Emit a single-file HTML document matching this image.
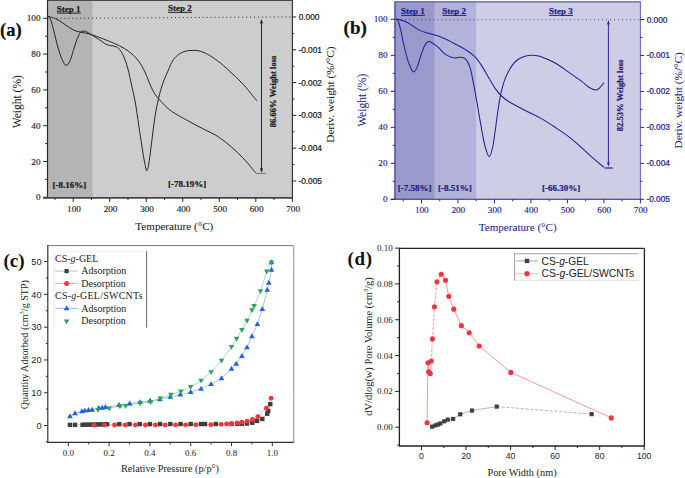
<!DOCTYPE html>
<html><head><meta charset="utf-8"><title>Figure</title>
<style>html,body{margin:0;padding:0;background:#fff;width:685px;height:478px;overflow:hidden}svg{display:block}</style>
</head><body>
<svg width="685" height="478" viewBox="0 0 685 478">
<rect x="0.00" y="0.00" width="685.00" height="478.00" fill="#ffffff"/>
<rect x="47.50" y="0.40" width="244.90" height="196.90" fill="#cdcdcd"/>
<rect x="47.50" y="0.40" width="45.00" height="196.90" fill="#b4b4b4"/>
<line x1="56.50" y1="18.40" x2="292.40" y2="16.90" stroke="#2a2a2a" stroke-width="1.0" stroke-dasharray="1 2.95"/>
<path d="M47.40,16.10 C47.88,16.57 49.33,16.87 50.30,18.90 C51.27,20.93 52.28,24.95 53.20,28.30 C54.12,31.65 54.92,35.50 55.80,39.00 C56.68,42.50 57.47,45.92 58.50,49.30 C59.53,52.68 60.73,56.60 62.00,59.30 C63.27,62.00 64.73,65.33 66.10,65.50 C67.47,65.67 68.95,62.97 70.20,60.30 C71.45,57.63 72.47,53.00 73.60,49.50 C74.73,46.00 75.87,42.15 77.00,39.30 C78.13,36.45 79.27,33.77 80.40,32.40 C81.53,31.03 82.67,31.13 83.80,31.10 C84.93,31.07 85.73,31.45 87.20,32.20 C88.67,32.95 90.53,34.33 92.60,35.60 C94.67,36.87 97.45,38.40 99.60,39.80 C101.75,41.20 103.67,43.03 105.50,44.00 C107.33,44.97 109.02,45.20 110.60,45.60 C112.18,46.00 113.65,45.90 115.00,46.40 C116.35,46.90 117.35,47.15 118.70,48.60 C120.05,50.05 121.60,51.87 123.10,55.10 C124.60,58.33 126.20,62.58 127.70,68.00 C129.20,73.42 130.82,81.77 132.10,87.60 C133.38,93.43 134.30,96.77 135.40,103.00 C136.50,109.23 137.60,117.68 138.70,125.00 C139.80,132.32 141.02,140.68 142.00,146.90 C142.98,153.12 143.80,158.33 144.60,162.30 C145.40,166.27 146.07,170.70 146.80,170.70 C147.53,170.70 148.15,167.37 149.00,162.30 C149.85,157.23 150.95,147.62 151.90,140.30 C152.85,132.98 153.60,125.35 154.70,118.40 C155.80,111.45 157.13,104.47 158.50,98.60 C159.87,92.73 161.25,87.97 162.90,83.20 C164.55,78.43 166.75,73.78 168.40,70.00 C170.05,66.22 171.08,63.10 172.80,60.50 C174.52,57.90 176.67,55.93 178.70,54.40 C180.73,52.87 182.95,51.95 185.00,51.30 C187.05,50.65 188.83,50.62 191.00,50.50 C193.17,50.38 195.67,50.18 198.00,50.60 C200.33,51.02 202.83,52.05 205.00,53.00 C207.17,53.95 208.33,54.55 211.00,56.30 C213.67,58.05 217.45,60.60 221.00,63.50 C224.55,66.40 229.13,70.78 232.30,73.70 C235.47,76.62 237.72,78.70 240.00,81.00 C242.28,83.30 244.17,85.42 246.00,87.50 C247.83,89.58 249.22,91.29 251.00,93.50 C252.78,95.71 255.75,99.54 256.70,100.75" fill="none" stroke="#1e1e1e" stroke-width="0.95" stroke-linejoin="round"/>
<path d="M47.40,16.10 C48.82,16.55 53.35,17.67 55.90,18.80 C58.45,19.93 60.43,21.42 62.70,22.90 C64.97,24.38 67.23,26.33 69.50,27.70 C71.77,29.07 74.03,30.28 76.30,31.10 C78.57,31.92 80.60,32.03 83.10,32.60 C85.60,33.17 88.05,33.48 91.30,34.50 C94.55,35.52 98.77,37.22 102.60,38.70 C106.43,40.18 110.65,41.75 114.30,43.40 C117.95,45.05 121.33,46.65 124.50,48.60 C127.67,50.55 130.62,52.55 133.30,55.10 C135.98,57.65 138.40,60.48 140.60,63.90 C142.80,67.32 145.02,72.37 146.50,75.60 C147.98,78.83 148.42,80.77 149.50,83.30 C150.58,85.83 151.83,88.63 153.00,90.80 C154.17,92.97 155.33,94.73 156.50,96.30 C157.67,97.87 158.63,98.68 160.00,100.20 C161.37,101.72 163.13,103.83 164.70,105.40 C166.27,106.97 167.83,108.35 169.40,109.60 C170.97,110.85 172.53,111.88 174.10,112.90 C175.67,113.92 176.45,114.37 178.80,115.70 C181.15,117.03 185.05,119.17 188.20,120.90 C191.35,122.63 194.55,124.45 197.70,126.10 C200.85,127.75 204.22,129.35 207.10,130.80 C209.98,132.25 212.77,133.55 215.00,134.80 C217.23,136.05 218.65,137.02 220.50,138.30 C222.35,139.58 224.25,141.02 226.10,142.50 C227.95,143.98 229.75,145.58 231.60,147.20 C233.45,148.82 235.35,150.45 237.20,152.20 C239.05,153.95 240.85,155.77 242.70,157.70 C244.55,159.63 246.63,161.87 248.30,163.80 C249.97,165.73 251.42,167.73 252.70,169.30 C253.98,170.87 255.45,172.55 256.00,173.20" fill="none" stroke="#1e1e1e" stroke-width="0.95" stroke-linejoin="round"/>
<line x1="256.00" y1="173.50" x2="265.90" y2="173.50" stroke="#7a7a7a" stroke-width="1.1"/>
<line x1="261.50" y1="22.50" x2="261.50" y2="169.30" stroke="#1e1e1e" stroke-width="0.95"/>
<path d="M261.50,19.00 L259.90,23.80 L261.50,22.84 L263.10,23.80 Z" fill="#1e1e1e"/>
<path d="M261.50,172.80 L259.90,168.00 L261.50,168.96 L263.10,168.00 Z" fill="#1e1e1e"/>
<line x1="47.00" y1="0.50" x2="292.90" y2="0.50" stroke="#4a4a4a" stroke-width="1.0"/>
<line x1="47.50" y1="0.40" x2="47.50" y2="197.90" stroke="#2a2a2a" stroke-width="1.2"/>
<line x1="292.40" y1="0.40" x2="292.40" y2="197.90" stroke="#2e2e2e" stroke-width="1.1"/>
<line x1="43.20" y1="197.90" x2="292.90" y2="197.90" stroke="#454545" stroke-width="1.6"/>
<line x1="43.20" y1="197.30" x2="47.50" y2="197.30" stroke="#262626" stroke-width="1"/>
<text x="40.50" y="200.40" style="font-family:'Liberation Serif',serif;font-size:9.2px;font-weight:normal" text-anchor="end" fill="#1a1a1a" stroke="#1a1a1a" stroke-width="0.15">0</text>
<line x1="45.20" y1="179.40" x2="47.50" y2="179.40" stroke="#262626" stroke-width="1"/>
<line x1="43.20" y1="161.50" x2="47.50" y2="161.50" stroke="#262626" stroke-width="1"/>
<text x="40.50" y="164.60" style="font-family:'Liberation Serif',serif;font-size:9.2px;font-weight:normal" text-anchor="end" fill="#1a1a1a" stroke="#1a1a1a" stroke-width="0.15">20</text>
<line x1="45.20" y1="143.60" x2="47.50" y2="143.60" stroke="#262626" stroke-width="1"/>
<line x1="43.20" y1="125.70" x2="47.50" y2="125.70" stroke="#262626" stroke-width="1"/>
<text x="40.50" y="128.80" style="font-family:'Liberation Serif',serif;font-size:9.2px;font-weight:normal" text-anchor="end" fill="#1a1a1a" stroke="#1a1a1a" stroke-width="0.15">40</text>
<line x1="45.20" y1="107.80" x2="47.50" y2="107.80" stroke="#262626" stroke-width="1"/>
<line x1="43.20" y1="89.90" x2="47.50" y2="89.90" stroke="#262626" stroke-width="1"/>
<text x="40.50" y="93.00" style="font-family:'Liberation Serif',serif;font-size:9.2px;font-weight:normal" text-anchor="end" fill="#1a1a1a" stroke="#1a1a1a" stroke-width="0.15">60</text>
<line x1="45.20" y1="72.00" x2="47.50" y2="72.00" stroke="#262626" stroke-width="1"/>
<line x1="43.20" y1="54.10" x2="47.50" y2="54.10" stroke="#262626" stroke-width="1"/>
<text x="40.50" y="57.20" style="font-family:'Liberation Serif',serif;font-size:9.2px;font-weight:normal" text-anchor="end" fill="#1a1a1a" stroke="#1a1a1a" stroke-width="0.15">80</text>
<line x1="45.20" y1="36.20" x2="47.50" y2="36.20" stroke="#262626" stroke-width="1"/>
<line x1="43.20" y1="18.30" x2="47.50" y2="18.30" stroke="#262626" stroke-width="1"/>
<text x="40.50" y="21.40" style="font-family:'Liberation Serif',serif;font-size:9.2px;font-weight:normal" text-anchor="end" fill="#1a1a1a" stroke="#1a1a1a" stroke-width="0.15">100</text>
<line x1="54.94" y1="197.90" x2="54.94" y2="199.90" stroke="#262626" stroke-width="1"/>
<line x1="73.20" y1="197.90" x2="73.20" y2="201.90" stroke="#262626" stroke-width="1"/>
<text x="74.00" y="211.60" style="font-family:'Liberation Serif',serif;font-size:9.2px;font-weight:normal" text-anchor="middle" fill="#1a1a1a" stroke="#1a1a1a" stroke-width="0.15">100</text>
<line x1="91.46" y1="197.90" x2="91.46" y2="199.90" stroke="#262626" stroke-width="1"/>
<line x1="109.72" y1="197.90" x2="109.72" y2="201.90" stroke="#262626" stroke-width="1"/>
<text x="110.52" y="211.60" style="font-family:'Liberation Serif',serif;font-size:9.2px;font-weight:normal" text-anchor="middle" fill="#1a1a1a" stroke="#1a1a1a" stroke-width="0.15">200</text>
<line x1="127.98" y1="197.90" x2="127.98" y2="199.90" stroke="#262626" stroke-width="1"/>
<line x1="146.24" y1="197.90" x2="146.24" y2="201.90" stroke="#262626" stroke-width="1"/>
<text x="147.04" y="211.60" style="font-family:'Liberation Serif',serif;font-size:9.2px;font-weight:normal" text-anchor="middle" fill="#1a1a1a" stroke="#1a1a1a" stroke-width="0.15">300</text>
<line x1="164.50" y1="197.90" x2="164.50" y2="199.90" stroke="#262626" stroke-width="1"/>
<line x1="182.76" y1="197.90" x2="182.76" y2="201.90" stroke="#262626" stroke-width="1"/>
<text x="183.56" y="211.60" style="font-family:'Liberation Serif',serif;font-size:9.2px;font-weight:normal" text-anchor="middle" fill="#1a1a1a" stroke="#1a1a1a" stroke-width="0.15">400</text>
<line x1="201.02" y1="197.90" x2="201.02" y2="199.90" stroke="#262626" stroke-width="1"/>
<line x1="219.28" y1="197.90" x2="219.28" y2="201.90" stroke="#262626" stroke-width="1"/>
<text x="220.08" y="211.60" style="font-family:'Liberation Serif',serif;font-size:9.2px;font-weight:normal" text-anchor="middle" fill="#1a1a1a" stroke="#1a1a1a" stroke-width="0.15">500</text>
<line x1="237.54" y1="197.90" x2="237.54" y2="199.90" stroke="#262626" stroke-width="1"/>
<line x1="255.80" y1="197.90" x2="255.80" y2="201.90" stroke="#262626" stroke-width="1"/>
<text x="256.60" y="211.60" style="font-family:'Liberation Serif',serif;font-size:9.2px;font-weight:normal" text-anchor="middle" fill="#1a1a1a" stroke="#1a1a1a" stroke-width="0.15">600</text>
<line x1="274.06" y1="197.90" x2="274.06" y2="199.90" stroke="#262626" stroke-width="1"/>
<line x1="292.32" y1="197.90" x2="292.32" y2="201.90" stroke="#262626" stroke-width="1"/>
<text x="293.12" y="211.60" style="font-family:'Liberation Serif',serif;font-size:9.2px;font-weight:normal" text-anchor="middle" fill="#1a1a1a" stroke="#1a1a1a" stroke-width="0.15">700</text>
<line x1="292.40" y1="17.00" x2="296.20" y2="17.00" stroke="#262626" stroke-width="1"/>
<text x="298.70" y="20.00" style="font-family:'Liberation Sans',sans-serif;font-size:8.3px;font-weight:normal" text-anchor="start" fill="#1a1a1a" stroke="#1a1a1a" stroke-width="0.22">0.000</text>
<line x1="292.40" y1="33.40" x2="294.40" y2="33.40" stroke="#262626" stroke-width="1"/>
<line x1="292.40" y1="49.80" x2="296.20" y2="49.80" stroke="#262626" stroke-width="1"/>
<text x="298.40" y="52.80" style="font-family:'Liberation Sans',sans-serif;font-size:8.3px;font-weight:normal" text-anchor="start" fill="#1a1a1a" stroke="#1a1a1a" stroke-width="0.22">-0.001</text>
<line x1="292.40" y1="66.20" x2="294.40" y2="66.20" stroke="#262626" stroke-width="1"/>
<line x1="292.40" y1="82.60" x2="296.20" y2="82.60" stroke="#262626" stroke-width="1"/>
<text x="298.40" y="85.60" style="font-family:'Liberation Sans',sans-serif;font-size:8.3px;font-weight:normal" text-anchor="start" fill="#1a1a1a" stroke="#1a1a1a" stroke-width="0.22">-0.002</text>
<line x1="292.40" y1="99.00" x2="294.40" y2="99.00" stroke="#262626" stroke-width="1"/>
<line x1="292.40" y1="115.40" x2="296.20" y2="115.40" stroke="#262626" stroke-width="1"/>
<text x="298.40" y="118.40" style="font-family:'Liberation Sans',sans-serif;font-size:8.3px;font-weight:normal" text-anchor="start" fill="#1a1a1a" stroke="#1a1a1a" stroke-width="0.22">-0.003</text>
<line x1="292.40" y1="131.80" x2="294.40" y2="131.80" stroke="#262626" stroke-width="1"/>
<line x1="292.40" y1="148.20" x2="296.20" y2="148.20" stroke="#262626" stroke-width="1"/>
<text x="298.40" y="151.20" style="font-family:'Liberation Sans',sans-serif;font-size:8.3px;font-weight:normal" text-anchor="start" fill="#1a1a1a" stroke="#1a1a1a" stroke-width="0.22">-0.004</text>
<line x1="292.40" y1="164.60" x2="294.40" y2="164.60" stroke="#262626" stroke-width="1"/>
<line x1="292.40" y1="181.00" x2="296.20" y2="181.00" stroke="#262626" stroke-width="1"/>
<text x="298.40" y="184.00" style="font-family:'Liberation Sans',sans-serif;font-size:8.3px;font-weight:normal" text-anchor="start" fill="#1a1a1a" stroke="#1a1a1a" stroke-width="0.22">-0.005</text>
<text x="56.80" y="11.60" style="font-family:'Liberation Serif',serif;font-size:9px;font-weight:bold" text-anchor="start" fill="#1a1a1a" stroke="#1a1a1a" stroke-width="0.22">Step 1</text>
<line x1="57.00" y1="13.05" x2="80.80" y2="13.05" stroke="#1a1a1a" stroke-width="1.0"/>
<text x="167.90" y="10.90" style="font-family:'Liberation Serif',serif;font-size:9px;font-weight:bold" text-anchor="start" fill="#1a1a1a" stroke="#1a1a1a" stroke-width="0.22">Step 2</text>
<line x1="168.10" y1="12.35" x2="191.90" y2="12.35" stroke="#1a1a1a" stroke-width="1.0"/>
<text x="52.40" y="187.60" style="font-family:'Liberation Serif',serif;font-size:9px;font-weight:bold" text-anchor="start" fill="#1a1a1a" stroke="#1a1a1a" stroke-width="0.22">[-8.16%]</text>
<text x="168.00" y="187.40" style="font-family:'Liberation Serif',serif;font-size:9px;font-weight:bold" text-anchor="start" fill="#1a1a1a" stroke="#1a1a1a" stroke-width="0.22">[-78.19%]</text>
<text x="276.40" y="91.40" style="font-family:'Liberation Serif',serif;font-size:8.6px;font-weight:bold" text-anchor="middle" fill="#1a1a1a" stroke="#1a1a1a" stroke-width="0.22" transform="rotate(-90 276.40 91.40)">86.66% Weight loss</text>
<text x="174.30" y="230.20" style="font-family:'Liberation Serif',serif;font-size:11.1px;font-weight:normal" text-anchor="middle" fill="#1a1a1a" stroke="#1a1a1a" stroke-width="0.06">Temperature (°C)</text>
<text x="20.70" y="101.70" style="font-family:'Liberation Serif',serif;font-size:11.5px;font-weight:normal" text-anchor="middle" fill="#1a1a1a" stroke="#1a1a1a" stroke-width="0.06" transform="rotate(-90 20.70 101.70)">Weight (%)</text>
<text x="334.40" y="94.60" style="font-family:'Liberation Serif',serif;font-size:11.3px;font-weight:normal" text-anchor="middle" fill="#1a1a1a" stroke="#1a1a1a" stroke-width="0.06" transform="rotate(-90 334.40 94.60)">Deriv. weight (%/°C)</text>
<text x="0.00" y="35.70" style="font-family:'Liberation Serif',serif;font-size:18.6px;font-weight:bold" text-anchor="start" fill="#111" stroke="#111" stroke-width="0.22">(a)</text>
<rect x="395.00" y="1.50" width="245.40" height="197.50" fill="#cdcde6"/>
<rect x="395.00" y="1.50" width="81.10" height="197.50" fill="#b3b3d9"/>
<rect x="395.00" y="1.50" width="39.40" height="197.50" fill="#9999cb"/>
<line x1="401.00" y1="19.80" x2="640.40" y2="19.80" stroke="#3c3c9c" stroke-width="0.95" stroke-dasharray="1 3.02"/>
<path d="M395.20,18.80 C395.68,19.15 397.17,18.97 398.10,20.90 C399.03,22.83 399.88,26.55 400.80,30.40 C401.72,34.25 402.57,39.47 403.60,44.00 C404.63,48.53 405.87,53.75 407.00,57.60 C408.13,61.45 409.27,64.72 410.40,67.10 C411.53,69.48 412.67,71.90 413.80,71.90 C414.93,71.90 416.07,69.70 417.20,67.10 C418.33,64.50 419.35,59.92 420.60,56.30 C421.85,52.68 423.35,47.85 424.70,45.40 C426.05,42.95 427.35,41.95 428.70,41.60 C430.05,41.25 431.20,42.33 432.80,43.30 C434.40,44.27 436.27,45.60 438.30,47.40 C440.33,49.20 442.83,52.47 445.00,54.10 C447.17,55.73 449.55,56.57 451.30,57.20 C453.05,57.83 453.93,57.90 455.50,57.90 C457.07,57.90 458.97,56.97 460.70,57.20 C462.43,57.43 464.33,57.55 465.90,59.30 C467.47,61.05 468.87,63.85 470.10,67.70 C471.33,71.55 472.25,77.17 473.30,82.40 C474.35,87.63 475.35,93.17 476.40,99.10 C477.45,105.03 478.58,112.18 479.60,118.00 C480.62,123.82 481.52,129.00 482.50,134.00 C483.48,139.00 484.40,144.23 485.50,148.00 C486.60,151.77 487.93,156.60 489.10,156.60 C490.27,156.60 491.47,152.43 492.50,148.00 C493.53,143.57 494.32,136.75 495.30,130.00 C496.28,123.25 497.37,114.05 498.40,107.50 C499.43,100.95 500.28,95.77 501.50,90.70 C502.72,85.63 503.95,81.28 505.70,77.10 C507.45,72.92 509.90,68.57 512.00,65.60 C514.10,62.63 516.13,60.87 518.30,59.30 C520.47,57.73 522.80,56.88 525.00,56.20 C527.20,55.52 529.42,55.27 531.50,55.20 C533.58,55.13 535.42,55.35 537.50,55.80 C539.58,56.25 540.85,56.58 544.00,57.90 C547.15,59.22 552.25,61.28 556.40,63.70 C560.55,66.12 564.73,69.50 568.90,72.40 C573.07,75.30 578.07,78.63 581.40,81.10 C584.73,83.57 586.48,85.73 588.90,87.20 C591.32,88.67 594.03,89.87 595.90,89.90 C597.77,89.93 598.77,88.57 600.10,87.40 C601.43,86.23 603.27,83.65 603.90,82.90" fill="none" stroke="#20209a" stroke-width="1.05" stroke-linejoin="round"/>
<path d="M395.20,18.80 C396.70,19.15 401.33,19.77 404.20,20.90 C407.07,22.03 409.90,24.07 412.40,25.60 C414.90,27.13 416.70,28.85 419.20,30.10 C421.70,31.35 424.45,32.18 427.40,33.10 C430.35,34.02 433.97,34.65 436.90,35.60 C439.83,36.55 441.90,37.37 445.00,38.80 C448.10,40.23 452.02,42.35 455.50,44.20 C458.98,46.05 462.77,47.90 465.90,49.90 C469.03,51.90 471.68,53.58 474.30,56.20 C476.92,58.82 479.15,61.93 481.60,65.60 C484.05,69.27 486.72,74.37 489.00,78.20 C491.28,82.03 493.22,85.63 495.30,88.60 C497.38,91.57 499.07,93.72 501.50,96.00 C503.93,98.28 505.70,99.75 509.90,102.30 C514.10,104.85 521.53,108.62 526.70,111.30 C531.87,113.98 536.17,115.73 540.90,118.40 C545.63,121.07 550.37,124.18 555.10,127.30 C559.83,130.42 564.85,133.68 569.30,137.10 C573.75,140.52 577.95,144.38 581.80,147.80 C585.65,151.22 588.70,154.35 592.40,157.60 C596.10,160.85 602.07,165.68 604.00,167.30" fill="none" stroke="#20209a" stroke-width="1.05" stroke-linejoin="round"/>
<line x1="604.50" y1="168.00" x2="612.90" y2="168.00" stroke="#5c5cb0" stroke-width="1.8"/>
<line x1="608.40" y1="23.40" x2="608.40" y2="163.30" stroke="#20209a" stroke-width="0.95"/>
<path d="M608.40,19.90 L606.90,24.70 L608.40,23.74 L609.90,24.70 Z" fill="#20209a"/>
<path d="M608.40,166.80 L606.90,162.00 L608.40,162.96 L609.90,162.00 Z" fill="#20209a"/>
<line x1="394.50" y1="1.80" x2="640.90" y2="1.80" stroke="#5e5eb2" stroke-width="1.3"/>
<line x1="395.00" y1="1.50" x2="395.00" y2="199.30" stroke="#5a5ab0" stroke-width="1.7"/>
<line x1="640.40" y1="1.50" x2="640.40" y2="199.30" stroke="#6464b4" stroke-width="1.0"/>
<line x1="390.70" y1="199.30" x2="640.90" y2="199.30" stroke="#20208c" stroke-width="1.1"/>
<line x1="390.70" y1="199.30" x2="395.00" y2="199.30" stroke="#25258e" stroke-width="1"/>
<text x="387.50" y="202.40" style="font-family:'Liberation Serif',serif;font-size:9.2px;font-weight:normal" text-anchor="end" fill="#1d1d86" stroke="#1d1d86" stroke-width="0.15">0</text>
<line x1="392.70" y1="181.30" x2="395.00" y2="181.30" stroke="#25258e" stroke-width="1"/>
<line x1="390.70" y1="163.30" x2="395.00" y2="163.30" stroke="#25258e" stroke-width="1"/>
<text x="387.50" y="166.40" style="font-family:'Liberation Serif',serif;font-size:9.2px;font-weight:normal" text-anchor="end" fill="#1d1d86" stroke="#1d1d86" stroke-width="0.15">20</text>
<line x1="392.70" y1="145.30" x2="395.00" y2="145.30" stroke="#25258e" stroke-width="1"/>
<line x1="390.70" y1="127.30" x2="395.00" y2="127.30" stroke="#25258e" stroke-width="1"/>
<text x="387.50" y="130.40" style="font-family:'Liberation Serif',serif;font-size:9.2px;font-weight:normal" text-anchor="end" fill="#1d1d86" stroke="#1d1d86" stroke-width="0.15">40</text>
<line x1="392.70" y1="109.30" x2="395.00" y2="109.30" stroke="#25258e" stroke-width="1"/>
<line x1="390.70" y1="91.30" x2="395.00" y2="91.30" stroke="#25258e" stroke-width="1"/>
<text x="387.50" y="94.40" style="font-family:'Liberation Serif',serif;font-size:9.2px;font-weight:normal" text-anchor="end" fill="#1d1d86" stroke="#1d1d86" stroke-width="0.15">60</text>
<line x1="392.70" y1="73.30" x2="395.00" y2="73.30" stroke="#25258e" stroke-width="1"/>
<line x1="390.70" y1="55.30" x2="395.00" y2="55.30" stroke="#25258e" stroke-width="1"/>
<text x="387.50" y="58.40" style="font-family:'Liberation Serif',serif;font-size:9.2px;font-weight:normal" text-anchor="end" fill="#1d1d86" stroke="#1d1d86" stroke-width="0.15">80</text>
<line x1="392.70" y1="37.30" x2="395.00" y2="37.30" stroke="#25258e" stroke-width="1"/>
<line x1="390.70" y1="19.30" x2="395.00" y2="19.30" stroke="#25258e" stroke-width="1"/>
<text x="387.50" y="22.40" style="font-family:'Liberation Serif',serif;font-size:9.2px;font-weight:normal" text-anchor="end" fill="#1d1d86" stroke="#1d1d86" stroke-width="0.15">100</text>
<line x1="403.26" y1="199.30" x2="403.26" y2="201.30" stroke="#25258e" stroke-width="1"/>
<line x1="421.50" y1="199.30" x2="421.50" y2="203.30" stroke="#25258e" stroke-width="1"/>
<text x="421.80" y="212.60" style="font-family:'Liberation Serif',serif;font-size:9.2px;font-weight:normal" text-anchor="middle" fill="#1d1d86" stroke="#1d1d86" stroke-width="0.15">100</text>
<line x1="439.74" y1="199.30" x2="439.74" y2="201.30" stroke="#25258e" stroke-width="1"/>
<line x1="457.98" y1="199.30" x2="457.98" y2="203.30" stroke="#25258e" stroke-width="1"/>
<text x="458.28" y="212.60" style="font-family:'Liberation Serif',serif;font-size:9.2px;font-weight:normal" text-anchor="middle" fill="#1d1d86" stroke="#1d1d86" stroke-width="0.15">200</text>
<line x1="476.22" y1="199.30" x2="476.22" y2="201.30" stroke="#25258e" stroke-width="1"/>
<line x1="494.46" y1="199.30" x2="494.46" y2="203.30" stroke="#25258e" stroke-width="1"/>
<text x="494.76" y="212.60" style="font-family:'Liberation Serif',serif;font-size:9.2px;font-weight:normal" text-anchor="middle" fill="#1d1d86" stroke="#1d1d86" stroke-width="0.15">300</text>
<line x1="512.70" y1="199.30" x2="512.70" y2="201.30" stroke="#25258e" stroke-width="1"/>
<line x1="530.94" y1="199.30" x2="530.94" y2="203.30" stroke="#25258e" stroke-width="1"/>
<text x="531.24" y="212.60" style="font-family:'Liberation Serif',serif;font-size:9.2px;font-weight:normal" text-anchor="middle" fill="#1d1d86" stroke="#1d1d86" stroke-width="0.15">400</text>
<line x1="549.18" y1="199.30" x2="549.18" y2="201.30" stroke="#25258e" stroke-width="1"/>
<line x1="567.42" y1="199.30" x2="567.42" y2="203.30" stroke="#25258e" stroke-width="1"/>
<text x="567.72" y="212.60" style="font-family:'Liberation Serif',serif;font-size:9.2px;font-weight:normal" text-anchor="middle" fill="#1d1d86" stroke="#1d1d86" stroke-width="0.15">500</text>
<line x1="585.66" y1="199.30" x2="585.66" y2="201.30" stroke="#25258e" stroke-width="1"/>
<line x1="603.90" y1="199.30" x2="603.90" y2="203.30" stroke="#25258e" stroke-width="1"/>
<text x="604.20" y="212.60" style="font-family:'Liberation Serif',serif;font-size:9.2px;font-weight:normal" text-anchor="middle" fill="#1d1d86" stroke="#1d1d86" stroke-width="0.15">600</text>
<line x1="622.14" y1="199.30" x2="622.14" y2="201.30" stroke="#25258e" stroke-width="1"/>
<line x1="640.38" y1="199.30" x2="640.38" y2="203.30" stroke="#25258e" stroke-width="1"/>
<text x="640.68" y="212.60" style="font-family:'Liberation Serif',serif;font-size:9.2px;font-weight:normal" text-anchor="middle" fill="#1d1d86" stroke="#1d1d86" stroke-width="0.15">700</text>
<line x1="640.40" y1="19.50" x2="644.20" y2="19.50" stroke="#25258e" stroke-width="1"/>
<text x="646.70" y="22.50" style="font-family:'Liberation Sans',sans-serif;font-size:8.3px;font-weight:normal" text-anchor="start" fill="#1d1d86" stroke="#1d1d86" stroke-width="0.22">0.000</text>
<line x1="640.40" y1="37.48" x2="642.40" y2="37.48" stroke="#25258e" stroke-width="1"/>
<line x1="640.40" y1="55.46" x2="644.20" y2="55.46" stroke="#25258e" stroke-width="1"/>
<text x="646.40" y="58.46" style="font-family:'Liberation Sans',sans-serif;font-size:8.3px;font-weight:normal" text-anchor="start" fill="#1d1d86" stroke="#1d1d86" stroke-width="0.22">-0.001</text>
<line x1="640.40" y1="73.44" x2="642.40" y2="73.44" stroke="#25258e" stroke-width="1"/>
<line x1="640.40" y1="91.42" x2="644.20" y2="91.42" stroke="#25258e" stroke-width="1"/>
<text x="646.40" y="94.42" style="font-family:'Liberation Sans',sans-serif;font-size:8.3px;font-weight:normal" text-anchor="start" fill="#1d1d86" stroke="#1d1d86" stroke-width="0.22">-0.002</text>
<line x1="640.40" y1="109.40" x2="642.40" y2="109.40" stroke="#25258e" stroke-width="1"/>
<line x1="640.40" y1="127.38" x2="644.20" y2="127.38" stroke="#25258e" stroke-width="1"/>
<text x="646.40" y="130.38" style="font-family:'Liberation Sans',sans-serif;font-size:8.3px;font-weight:normal" text-anchor="start" fill="#1d1d86" stroke="#1d1d86" stroke-width="0.22">-0.003</text>
<line x1="640.40" y1="145.36" x2="642.40" y2="145.36" stroke="#25258e" stroke-width="1"/>
<line x1="640.40" y1="163.34" x2="644.20" y2="163.34" stroke="#25258e" stroke-width="1"/>
<text x="646.40" y="166.34" style="font-family:'Liberation Sans',sans-serif;font-size:8.3px;font-weight:normal" text-anchor="start" fill="#1d1d86" stroke="#1d1d86" stroke-width="0.22">-0.004</text>
<line x1="640.40" y1="181.32" x2="642.40" y2="181.32" stroke="#25258e" stroke-width="1"/>
<line x1="640.40" y1="199.30" x2="644.20" y2="199.30" stroke="#25258e" stroke-width="1"/>
<text x="646.40" y="202.30" style="font-family:'Liberation Sans',sans-serif;font-size:8.3px;font-weight:normal" text-anchor="start" fill="#1d1d86" stroke="#1d1d86" stroke-width="0.22">-0.005</text>
<text x="401.00" y="13.90" style="font-family:'Liberation Serif',serif;font-size:9px;font-weight:bold" text-anchor="start" fill="#1d1d86" stroke="#1d1d86" stroke-width="0.22">Step 1</text>
<line x1="401.20" y1="15.35" x2="425.00" y2="15.35" stroke="#1d1d86" stroke-width="1.0"/>
<text x="442.30" y="13.90" style="font-family:'Liberation Serif',serif;font-size:9px;font-weight:bold" text-anchor="start" fill="#1d1d86" stroke="#1d1d86" stroke-width="0.22">Step 2</text>
<line x1="442.50" y1="15.35" x2="466.30" y2="15.35" stroke="#1d1d86" stroke-width="1.0"/>
<text x="549.00" y="13.90" style="font-family:'Liberation Serif',serif;font-size:9px;font-weight:bold" text-anchor="start" fill="#1d1d86" stroke="#1d1d86" stroke-width="0.22">Step 3</text>
<line x1="549.20" y1="15.35" x2="573.00" y2="15.35" stroke="#1d1d86" stroke-width="1.0"/>
<text x="397.80" y="190.90" style="font-family:'Liberation Serif',serif;font-size:9px;font-weight:bold" text-anchor="start" fill="#1d1d86" stroke="#1d1d86" stroke-width="0.22">[-7.58%]</text>
<text x="438.00" y="190.90" style="font-family:'Liberation Serif',serif;font-size:9px;font-weight:bold" text-anchor="start" fill="#1d1d86" stroke="#1d1d86" stroke-width="0.22">[-8.51%]</text>
<text x="542.00" y="190.90" style="font-family:'Liberation Serif',serif;font-size:9px;font-weight:bold" text-anchor="start" fill="#1d1d86" stroke="#1d1d86" stroke-width="0.22">[-66.30%]</text>
<text x="622.90" y="95.40" style="font-family:'Liberation Serif',serif;font-size:8.6px;font-weight:bold" text-anchor="middle" fill="#1d1d86" stroke="#1d1d86" stroke-width="0.22" transform="rotate(-90 622.90 95.40)">82.53% Weight loss</text>
<text x="517.70" y="230.60" style="font-family:'Liberation Serif',serif;font-size:11.1px;font-weight:normal" text-anchor="middle" fill="#1d1d86" stroke="#1d1d86" stroke-width="0.06">Temperature (°C)</text>
<text x="365.70" y="100.30" style="font-family:'Liberation Serif',serif;font-size:11.5px;font-weight:normal" text-anchor="middle" fill="#1d1d86" stroke="#1d1d86" stroke-width="0.06" transform="rotate(-90 365.70 100.30)">Weight (%)</text>
<text x="682.30" y="100.30" style="font-family:'Liberation Serif',serif;font-size:11.3px;font-weight:normal" text-anchor="middle" fill="#1d1d86" stroke="#1d1d86" stroke-width="0.06" transform="rotate(-90 682.30 100.30)">Deriv. weight (%/°C)</text>
<text x="343.60" y="34.40" style="font-family:'Liberation Serif',serif;font-size:19px;font-weight:bold" text-anchor="start" fill="#111" stroke="#111" stroke-width="0.22">(b)</text>
<line x1="47.80" y1="245.60" x2="293.30" y2="245.60" stroke="#777777" stroke-width="1.0"/>
<line x1="293.70" y1="245.40" x2="293.70" y2="442.40" stroke="#aaaaaa" stroke-width="1.3"/>
<line x1="47.80" y1="244.90" x2="47.80" y2="442.40" stroke="#333" stroke-width="1.2"/>
<line x1="47.20" y1="442.40" x2="293.80" y2="442.40" stroke="#333" stroke-width="1.2"/>
<line x1="45.80" y1="441.89" x2="47.80" y2="441.89" stroke="#333" stroke-width="1"/>
<line x1="44.00" y1="425.50" x2="47.80" y2="425.50" stroke="#333" stroke-width="1"/>
<text x="41.60" y="428.80" style="font-family:'Liberation Sans',sans-serif;font-size:9.2px;font-weight:normal" text-anchor="end" fill="#222">0</text>
<line x1="45.80" y1="409.11" x2="47.80" y2="409.11" stroke="#333" stroke-width="1"/>
<line x1="44.00" y1="392.72" x2="47.80" y2="392.72" stroke="#333" stroke-width="1"/>
<text x="41.60" y="396.02" style="font-family:'Liberation Sans',sans-serif;font-size:9.2px;font-weight:normal" text-anchor="end" fill="#222">10</text>
<line x1="45.80" y1="376.33" x2="47.80" y2="376.33" stroke="#333" stroke-width="1"/>
<line x1="44.00" y1="359.94" x2="47.80" y2="359.94" stroke="#333" stroke-width="1"/>
<text x="41.60" y="363.24" style="font-family:'Liberation Sans',sans-serif;font-size:9.2px;font-weight:normal" text-anchor="end" fill="#222">20</text>
<line x1="45.80" y1="343.55" x2="47.80" y2="343.55" stroke="#333" stroke-width="1"/>
<line x1="44.00" y1="327.16" x2="47.80" y2="327.16" stroke="#333" stroke-width="1"/>
<text x="41.60" y="330.46" style="font-family:'Liberation Sans',sans-serif;font-size:9.2px;font-weight:normal" text-anchor="end" fill="#222">30</text>
<line x1="45.80" y1="310.77" x2="47.80" y2="310.77" stroke="#333" stroke-width="1"/>
<line x1="44.00" y1="294.38" x2="47.80" y2="294.38" stroke="#333" stroke-width="1"/>
<text x="41.60" y="297.68" style="font-family:'Liberation Sans',sans-serif;font-size:9.2px;font-weight:normal" text-anchor="end" fill="#222">40</text>
<line x1="45.80" y1="277.99" x2="47.80" y2="277.99" stroke="#333" stroke-width="1"/>
<line x1="44.00" y1="261.60" x2="47.80" y2="261.60" stroke="#333" stroke-width="1"/>
<text x="41.60" y="264.90" style="font-family:'Liberation Sans',sans-serif;font-size:9.2px;font-weight:normal" text-anchor="end" fill="#222">50</text>
<line x1="68.30" y1="442.40" x2="68.30" y2="446.20" stroke="#333" stroke-width="1"/>
<text x="68.30" y="456.00" style="font-family:'Liberation Serif',serif;font-size:9.0px;font-weight:normal" text-anchor="middle" fill="#222">0.0</text>
<line x1="88.70" y1="442.40" x2="88.70" y2="444.40" stroke="#333" stroke-width="1"/>
<line x1="109.10" y1="442.40" x2="109.10" y2="446.20" stroke="#333" stroke-width="1"/>
<text x="109.10" y="456.00" style="font-family:'Liberation Serif',serif;font-size:9.0px;font-weight:normal" text-anchor="middle" fill="#222">0.2</text>
<line x1="129.50" y1="442.40" x2="129.50" y2="444.40" stroke="#333" stroke-width="1"/>
<line x1="149.90" y1="442.40" x2="149.90" y2="446.20" stroke="#333" stroke-width="1"/>
<text x="149.90" y="456.00" style="font-family:'Liberation Serif',serif;font-size:9.0px;font-weight:normal" text-anchor="middle" fill="#222">0.4</text>
<line x1="170.30" y1="442.40" x2="170.30" y2="444.40" stroke="#333" stroke-width="1"/>
<line x1="190.70" y1="442.40" x2="190.70" y2="446.20" stroke="#333" stroke-width="1"/>
<text x="190.70" y="456.00" style="font-family:'Liberation Serif',serif;font-size:9.0px;font-weight:normal" text-anchor="middle" fill="#222">0.6</text>
<line x1="211.10" y1="442.40" x2="211.10" y2="444.40" stroke="#333" stroke-width="1"/>
<line x1="231.50" y1="442.40" x2="231.50" y2="446.20" stroke="#333" stroke-width="1"/>
<text x="231.50" y="456.00" style="font-family:'Liberation Serif',serif;font-size:9.0px;font-weight:normal" text-anchor="middle" fill="#222">0.8</text>
<line x1="251.90" y1="442.40" x2="251.90" y2="444.40" stroke="#333" stroke-width="1"/>
<line x1="272.30" y1="442.40" x2="272.30" y2="446.20" stroke="#333" stroke-width="1"/>
<text x="272.30" y="456.00" style="font-family:'Liberation Serif',serif;font-size:9.0px;font-weight:normal" text-anchor="middle" fill="#222">1.0</text>
<text x="170.00" y="471.90" style="font-family:'Liberation Serif',serif;font-size:10.25px;font-weight:normal" text-anchor="middle" fill="#222">Relative Pressure (p/p°)</text>
<text transform="translate(27.5 344.6) rotate(-90)" style="font-family:'Liberation Serif',serif;font-size:10.1px" text-anchor="middle" fill="#222">Quantity Adsorbed (cm<tspan font-size="6.5" dy="-3.5">3</tspan><tspan dy="3.5">/g STP)</tspan></text>
<text x="3.40" y="267.30" style="font-family:'Liberation Serif',serif;font-size:19px;font-weight:bold" text-anchor="start" fill="#111">(c)</text>
<path d="M69.93,424.84 L75.03,424.84 L82.58,424.78 L85.64,424.71 L88.70,424.65 L91.76,424.58 L94.82,424.52 L97.88,424.45 L100.94,424.39 L104.00,424.32 L107.06,424.25 L119.30,424.19 L129.50,424.12 L139.70,424.12 L149.90,424.12 L160.10,424.06 L170.30,424.06 L180.50,424.06 L190.70,424.02 L200.90,424.02 L204.98,424.02 L215.79,424.02 L231.50,424.02 L237.42,423.93 L241.90,423.86 L247.00,423.53 L252.31,422.71 L257.00,420.91 L262.30,418.94 L267.20,413.70 L268.22,411.08 L270.26,404.19" fill="none" stroke="#aaaaaa" stroke-width="0.6"/>
<path d="M94.21,425.17 L104.61,425.11 L114.61,425.04 L125.22,425.01 L135.42,425.01 L145.41,425.01 L155.41,424.98 L165.20,424.94 L175.60,424.91 L185.60,424.84 L195.80,424.78 L210.90,424.68 L221.10,424.35 L226.60,424.02 L231.50,423.53 L237.21,422.88 L241.90,422.22 L247.21,421.24 L252.51,419.44 L257.82,416.65 L266.38,408.13 L271.08,398.29" fill="none" stroke="#f27a7a" stroke-width="0.6"/>
<path d="M69.93,416.32 L75.03,413.37 L81.97,411.40 L84.82,410.75 L88.50,410.09 L92.17,409.77 L98.70,408.13 L102.16,407.80 L105.43,407.14 L119.10,405.18 L129.70,403.54 L140.11,402.23 L150.10,400.92 L159.90,399.28 L170.30,396.98 L180.30,394.69 L190.70,392.06 L201.10,388.79 L211.10,384.20 L221.50,378.30 L231.50,368.79 L236.19,363.87 L241.90,356.01 L247.00,347.48 L251.90,336.34 L257.41,324.21 L262.30,309.13 L267.20,289.79 L268.83,282.91 L271.48,269.79 L271.48,262.26" fill="none" stroke="#7ea6ee" stroke-width="0.7"/>
<path d="M98.08,409.77 L109.10,408.45 L119.91,406.16 L125.62,405.83 L140.11,403.21 L150.51,401.90 L160.30,398.29 L170.91,394.69 L180.91,391.41 L190.70,386.82 L201.10,380.59 L211.10,372.07 L221.50,360.60 L231.50,346.83 L236.60,338.63 L241.90,329.78 L247.00,320.60 L251.90,310.11 L254.14,305.85 L260.47,291.10 L266.79,271.43 L271.48,262.26" fill="none" stroke="#86cf9c" stroke-width="0.7"/>
<rect x="67.73" y="422.64" width="4.40" height="4.40" fill="#3d3d3d"/>
<rect x="72.83" y="422.64" width="4.40" height="4.40" fill="#3d3d3d"/>
<rect x="80.38" y="422.58" width="4.40" height="4.40" fill="#3d3d3d"/>
<rect x="83.44" y="422.51" width="4.40" height="4.40" fill="#3d3d3d"/>
<rect x="86.50" y="422.45" width="4.40" height="4.40" fill="#3d3d3d"/>
<rect x="89.56" y="422.38" width="4.40" height="4.40" fill="#3d3d3d"/>
<rect x="92.62" y="422.32" width="4.40" height="4.40" fill="#3d3d3d"/>
<rect x="95.68" y="422.25" width="4.40" height="4.40" fill="#3d3d3d"/>
<rect x="98.74" y="422.19" width="4.40" height="4.40" fill="#3d3d3d"/>
<rect x="101.80" y="422.12" width="4.40" height="4.40" fill="#3d3d3d"/>
<rect x="104.86" y="422.05" width="4.40" height="4.40" fill="#3d3d3d"/>
<rect x="117.10" y="421.99" width="4.40" height="4.40" fill="#3d3d3d"/>
<rect x="127.30" y="421.92" width="4.40" height="4.40" fill="#3d3d3d"/>
<rect x="137.50" y="421.92" width="4.40" height="4.40" fill="#3d3d3d"/>
<rect x="147.70" y="421.92" width="4.40" height="4.40" fill="#3d3d3d"/>
<rect x="157.90" y="421.86" width="4.40" height="4.40" fill="#3d3d3d"/>
<rect x="168.10" y="421.86" width="4.40" height="4.40" fill="#3d3d3d"/>
<rect x="178.30" y="421.86" width="4.40" height="4.40" fill="#3d3d3d"/>
<rect x="188.50" y="421.82" width="4.40" height="4.40" fill="#3d3d3d"/>
<rect x="198.70" y="421.82" width="4.40" height="4.40" fill="#3d3d3d"/>
<rect x="202.78" y="421.82" width="4.40" height="4.40" fill="#3d3d3d"/>
<rect x="213.59" y="421.82" width="4.40" height="4.40" fill="#3d3d3d"/>
<rect x="229.30" y="421.82" width="4.40" height="4.40" fill="#3d3d3d"/>
<rect x="235.22" y="421.73" width="4.40" height="4.40" fill="#3d3d3d"/>
<rect x="239.70" y="421.66" width="4.40" height="4.40" fill="#3d3d3d"/>
<rect x="244.80" y="421.33" width="4.40" height="4.40" fill="#3d3d3d"/>
<rect x="250.11" y="420.51" width="4.40" height="4.40" fill="#3d3d3d"/>
<rect x="254.80" y="418.71" width="4.40" height="4.40" fill="#3d3d3d"/>
<rect x="260.10" y="416.74" width="4.40" height="4.40" fill="#3d3d3d"/>
<rect x="265.00" y="411.50" width="4.40" height="4.40" fill="#3d3d3d"/>
<rect x="266.02" y="408.88" width="4.40" height="4.40" fill="#3d3d3d"/>
<rect x="268.06" y="401.99" width="4.40" height="4.40" fill="#3d3d3d"/>
<circle cx="94.21" cy="425.17" r="2.45" fill="#f0353d"/>
<circle cx="104.61" cy="425.11" r="2.45" fill="#f0353d"/>
<circle cx="114.61" cy="425.04" r="2.45" fill="#f0353d"/>
<circle cx="125.22" cy="425.01" r="2.45" fill="#f0353d"/>
<circle cx="135.42" cy="425.01" r="2.45" fill="#f0353d"/>
<circle cx="145.41" cy="425.01" r="2.45" fill="#f0353d"/>
<circle cx="155.41" cy="424.98" r="2.45" fill="#f0353d"/>
<circle cx="165.20" cy="424.94" r="2.45" fill="#f0353d"/>
<circle cx="175.60" cy="424.91" r="2.45" fill="#f0353d"/>
<circle cx="185.60" cy="424.84" r="2.45" fill="#f0353d"/>
<circle cx="195.80" cy="424.78" r="2.45" fill="#f0353d"/>
<circle cx="210.90" cy="424.68" r="2.45" fill="#f0353d"/>
<circle cx="221.10" cy="424.35" r="2.45" fill="#f0353d"/>
<circle cx="226.60" cy="424.02" r="2.45" fill="#f0353d"/>
<circle cx="231.50" cy="423.53" r="2.45" fill="#f0353d"/>
<circle cx="237.21" cy="422.88" r="2.45" fill="#f0353d"/>
<circle cx="241.90" cy="422.22" r="2.45" fill="#f0353d"/>
<circle cx="247.21" cy="421.24" r="2.45" fill="#f0353d"/>
<circle cx="252.51" cy="419.44" r="2.45" fill="#f0353d"/>
<circle cx="257.82" cy="416.65" r="2.45" fill="#f0353d"/>
<circle cx="266.38" cy="408.13" r="2.45" fill="#f0353d"/>
<circle cx="271.08" cy="398.29" r="2.45" fill="#f0353d"/>
<path d="M69.93,413.26 L67.08,418.20 L72.78,418.20 Z" fill="#1f62e4"/>
<path d="M75.03,410.31 L72.18,415.25 L77.88,415.25 Z" fill="#1f62e4"/>
<path d="M81.97,408.34 L79.12,413.28 L84.82,413.28 Z" fill="#1f62e4"/>
<path d="M84.82,407.69 L81.97,412.62 L87.67,412.62 Z" fill="#1f62e4"/>
<path d="M88.50,407.03 L85.65,411.97 L91.35,411.97 Z" fill="#1f62e4"/>
<path d="M92.17,406.71 L89.32,411.64 L95.02,411.64 Z" fill="#1f62e4"/>
<path d="M98.70,405.07 L95.85,410.00 L101.55,410.00 Z" fill="#1f62e4"/>
<path d="M102.16,404.74 L99.31,409.67 L105.01,409.67 Z" fill="#1f62e4"/>
<path d="M105.43,404.08 L102.58,409.02 L108.28,409.02 Z" fill="#1f62e4"/>
<path d="M119.10,402.12 L116.25,407.05 L121.95,407.05 Z" fill="#1f62e4"/>
<path d="M129.70,400.48 L126.85,405.41 L132.55,405.41 Z" fill="#1f62e4"/>
<path d="M140.11,399.17 L137.26,404.10 L142.96,404.10 Z" fill="#1f62e4"/>
<path d="M150.10,397.85 L147.25,402.79 L152.95,402.79 Z" fill="#1f62e4"/>
<path d="M159.90,396.22 L157.05,401.15 L162.75,401.15 Z" fill="#1f62e4"/>
<path d="M170.30,393.92 L167.45,398.86 L173.15,398.86 Z" fill="#1f62e4"/>
<path d="M180.30,391.63 L177.45,396.56 L183.15,396.56 Z" fill="#1f62e4"/>
<path d="M190.70,389.00 L187.85,393.94 L193.55,393.94 Z" fill="#1f62e4"/>
<path d="M201.10,385.73 L198.25,390.66 L203.95,390.66 Z" fill="#1f62e4"/>
<path d="M211.10,381.14 L208.25,386.07 L213.95,386.07 Z" fill="#1f62e4"/>
<path d="M221.50,375.24 L218.65,380.17 L224.35,380.17 Z" fill="#1f62e4"/>
<path d="M231.50,365.73 L228.65,370.67 L234.35,370.67 Z" fill="#1f62e4"/>
<path d="M236.19,360.81 L233.34,365.75 L239.04,365.75 Z" fill="#1f62e4"/>
<path d="M241.90,352.95 L239.05,357.88 L244.75,357.88 Z" fill="#1f62e4"/>
<path d="M247.00,344.42 L244.15,349.36 L249.85,349.36 Z" fill="#1f62e4"/>
<path d="M251.90,333.28 L249.05,338.21 L254.75,338.21 Z" fill="#1f62e4"/>
<path d="M257.41,321.15 L254.56,326.09 L260.26,326.09 Z" fill="#1f62e4"/>
<path d="M262.30,306.07 L259.45,311.01 L265.15,311.01 Z" fill="#1f62e4"/>
<path d="M267.20,286.73 L264.35,291.67 L270.05,291.67 Z" fill="#1f62e4"/>
<path d="M268.83,279.85 L265.98,284.78 L271.68,284.78 Z" fill="#1f62e4"/>
<path d="M271.48,266.73 L268.63,271.67 L274.33,271.67 Z" fill="#1f62e4"/>
<path d="M271.48,259.20 L268.63,264.13 L274.33,264.13 Z" fill="#1f62e4"/>
<path d="M98.08,412.77 L95.28,407.92 L100.88,407.92 Z" fill="#2aa35c"/>
<path d="M109.10,411.46 L106.30,406.61 L111.90,406.61 Z" fill="#2aa35c"/>
<path d="M119.91,409.17 L117.11,404.32 L122.71,404.32 Z" fill="#2aa35c"/>
<path d="M125.62,408.84 L122.82,403.99 L128.42,403.99 Z" fill="#2aa35c"/>
<path d="M140.11,406.22 L137.31,401.37 L142.91,401.37 Z" fill="#2aa35c"/>
<path d="M150.51,404.91 L147.71,400.06 L153.31,400.06 Z" fill="#2aa35c"/>
<path d="M160.30,401.30 L157.50,396.45 L163.10,396.45 Z" fill="#2aa35c"/>
<path d="M170.91,397.69 L168.11,392.84 L173.71,392.84 Z" fill="#2aa35c"/>
<path d="M180.91,394.42 L178.11,389.57 L183.71,389.57 Z" fill="#2aa35c"/>
<path d="M190.70,389.83 L187.90,384.98 L193.50,384.98 Z" fill="#2aa35c"/>
<path d="M201.10,383.60 L198.30,378.75 L203.90,378.75 Z" fill="#2aa35c"/>
<path d="M211.10,375.08 L208.30,370.23 L213.90,370.23 Z" fill="#2aa35c"/>
<path d="M221.50,363.60 L218.70,358.75 L224.30,358.75 Z" fill="#2aa35c"/>
<path d="M231.50,349.83 L228.70,344.99 L234.30,344.99 Z" fill="#2aa35c"/>
<path d="M236.60,341.64 L233.80,336.79 L239.40,336.79 Z" fill="#2aa35c"/>
<path d="M241.90,332.79 L239.10,327.94 L244.70,327.94 Z" fill="#2aa35c"/>
<path d="M247.00,323.61 L244.20,318.76 L249.80,318.76 Z" fill="#2aa35c"/>
<path d="M251.90,313.12 L249.10,308.27 L254.70,308.27 Z" fill="#2aa35c"/>
<path d="M254.14,308.86 L251.34,304.01 L256.94,304.01 Z" fill="#2aa35c"/>
<path d="M260.47,294.11 L257.67,289.26 L263.27,289.26 Z" fill="#2aa35c"/>
<path d="M266.79,274.44 L263.99,269.59 L269.59,269.59 Z" fill="#2aa35c"/>
<path d="M271.48,265.26 L268.68,260.41 L274.28,260.41 Z" fill="#2aa35c"/>
<line x1="54.20" y1="251.80" x2="54.20" y2="328.00" stroke="#e6e6e6" stroke-width="1"/>
<line x1="54.20" y1="251.80" x2="146.50" y2="251.80" stroke="#f0f0f0" stroke-width="1"/>
<line x1="146.60" y1="251.20" x2="146.60" y2="327.60" stroke="#555555" stroke-width="0.9"/>
<text x="55.00" y="262.00" style="font-family:'Liberation Serif',serif;font-size:10.0px;font-weight:normal" text-anchor="start" fill="#222">CS-<tspan font-style="italic">g</tspan>-GEL</text>
<line x1="55.30" y1="271.10" x2="77.80" y2="271.10" stroke="#c8c8c8" stroke-width="1.1"/>
<rect x="64.50" y="269.00" width="4.20" height="4.20" fill="#3d3d3d"/>
<text x="81.30" y="274.40" style="font-family:'Liberation Serif',serif;font-size:10.0px;font-weight:normal" text-anchor="start" fill="#222">Adsorption</text>
<line x1="55.30" y1="283.40" x2="77.80" y2="283.40" stroke="#f28a8a" stroke-width="0.8"/>
<circle cx="66.60" cy="283.40" r="2.50" fill="#f0353d"/>
<text x="81.30" y="286.60" style="font-family:'Liberation Serif',serif;font-size:10.0px;font-weight:normal" text-anchor="start" fill="#222">Desorption</text>
<text x="55.00" y="299.20" style="font-family:'Liberation Serif',serif;font-size:10.0px;font-weight:normal" text-anchor="start" fill="#222" textLength="87.6">CS-<tspan font-style="italic">g</tspan>-GEL/SWCNTs</text>
<line x1="55.30" y1="308.30" x2="77.80" y2="308.30" stroke="#7ea6ee" stroke-width="0.8"/>
<path d="M66.60,305.24 L63.75,310.18 L69.45,310.18 Z" fill="#1f62e4"/>
<text x="81.30" y="311.60" style="font-family:'Liberation Serif',serif;font-size:10.0px;font-weight:normal" text-anchor="start" fill="#222">Adsorption</text>
<path d="M66.60,324.31 L63.80,319.46 L69.40,319.46 Z" fill="#2aa35c"/>
<text x="81.30" y="324.40" style="font-family:'Liberation Serif',serif;font-size:10.0px;font-weight:normal" text-anchor="start" fill="#222">Desorption</text>
<line x1="399.40" y1="248.40" x2="644.40" y2="248.40" stroke="#222" stroke-width="1.3"/>
<line x1="644.40" y1="248.40" x2="644.40" y2="446.00" stroke="#222" stroke-width="1.3"/>
<line x1="399.40" y1="247.80" x2="399.40" y2="446.00" stroke="#222" stroke-width="1.3"/>
<line x1="398.80" y1="446.00" x2="645.00" y2="446.00" stroke="#222" stroke-width="1.3"/>
<line x1="397.20" y1="445.11" x2="399.40" y2="445.11" stroke="#222" stroke-width="1"/>
<line x1="395.10" y1="427.20" x2="399.40" y2="427.20" stroke="#222" stroke-width="1"/>
<text x="392.80" y="430.30" style="font-family:'Liberation Serif',serif;font-size:9.0px;font-weight:normal" text-anchor="end" fill="#222">0.00</text>
<line x1="397.20" y1="409.29" x2="399.40" y2="409.29" stroke="#222" stroke-width="1"/>
<line x1="395.10" y1="391.38" x2="399.40" y2="391.38" stroke="#222" stroke-width="1"/>
<text x="392.80" y="394.48" style="font-family:'Liberation Serif',serif;font-size:9.0px;font-weight:normal" text-anchor="end" fill="#222">0.02</text>
<line x1="397.20" y1="373.47" x2="399.40" y2="373.47" stroke="#222" stroke-width="1"/>
<line x1="395.10" y1="355.56" x2="399.40" y2="355.56" stroke="#222" stroke-width="1"/>
<text x="392.80" y="358.66" style="font-family:'Liberation Serif',serif;font-size:9.0px;font-weight:normal" text-anchor="end" fill="#222">0.04</text>
<line x1="397.20" y1="337.65" x2="399.40" y2="337.65" stroke="#222" stroke-width="1"/>
<line x1="395.10" y1="319.74" x2="399.40" y2="319.74" stroke="#222" stroke-width="1"/>
<text x="392.80" y="322.84" style="font-family:'Liberation Serif',serif;font-size:9.0px;font-weight:normal" text-anchor="end" fill="#222">0.06</text>
<line x1="397.20" y1="301.83" x2="399.40" y2="301.83" stroke="#222" stroke-width="1"/>
<line x1="395.10" y1="283.92" x2="399.40" y2="283.92" stroke="#222" stroke-width="1"/>
<text x="392.80" y="287.02" style="font-family:'Liberation Serif',serif;font-size:9.0px;font-weight:normal" text-anchor="end" fill="#222">0.08</text>
<line x1="397.20" y1="266.01" x2="399.40" y2="266.01" stroke="#222" stroke-width="1"/>
<line x1="395.10" y1="248.10" x2="399.40" y2="248.10" stroke="#222" stroke-width="1"/>
<text x="392.80" y="251.20" style="font-family:'Liberation Serif',serif;font-size:9.0px;font-weight:normal" text-anchor="end" fill="#222">0.10</text>
<line x1="421.50" y1="446.00" x2="421.50" y2="450.00" stroke="#222" stroke-width="1"/>
<text x="421.50" y="459.40" style="font-family:'Liberation Sans',sans-serif;font-size:8.7px;font-weight:normal" text-anchor="middle" fill="#222">0</text>
<line x1="443.77" y1="446.00" x2="443.77" y2="448.00" stroke="#222" stroke-width="1"/>
<line x1="466.04" y1="446.00" x2="466.04" y2="450.00" stroke="#222" stroke-width="1"/>
<text x="466.04" y="459.40" style="font-family:'Liberation Sans',sans-serif;font-size:8.7px;font-weight:normal" text-anchor="middle" fill="#222">20</text>
<line x1="488.31" y1="446.00" x2="488.31" y2="448.00" stroke="#222" stroke-width="1"/>
<line x1="510.58" y1="446.00" x2="510.58" y2="450.00" stroke="#222" stroke-width="1"/>
<text x="510.58" y="459.40" style="font-family:'Liberation Sans',sans-serif;font-size:8.7px;font-weight:normal" text-anchor="middle" fill="#222">40</text>
<line x1="532.85" y1="446.00" x2="532.85" y2="448.00" stroke="#222" stroke-width="1"/>
<line x1="555.12" y1="446.00" x2="555.12" y2="450.00" stroke="#222" stroke-width="1"/>
<text x="555.12" y="459.40" style="font-family:'Liberation Sans',sans-serif;font-size:8.7px;font-weight:normal" text-anchor="middle" fill="#222">60</text>
<line x1="577.39" y1="446.00" x2="577.39" y2="448.00" stroke="#222" stroke-width="1"/>
<line x1="599.66" y1="446.00" x2="599.66" y2="450.00" stroke="#222" stroke-width="1"/>
<text x="599.66" y="459.40" style="font-family:'Liberation Sans',sans-serif;font-size:8.7px;font-weight:normal" text-anchor="middle" fill="#222">80</text>
<line x1="621.93" y1="446.00" x2="621.93" y2="448.00" stroke="#222" stroke-width="1"/>
<line x1="644.20" y1="446.00" x2="644.20" y2="450.00" stroke="#222" stroke-width="1"/>
<text x="644.20" y="459.40" style="font-family:'Liberation Sans',sans-serif;font-size:8.7px;font-weight:normal" text-anchor="middle" fill="#222">100</text>
<text x="522.00" y="475.70" style="font-family:'Liberation Serif',serif;font-size:10.3px;font-weight:normal" text-anchor="middle" fill="#222">Pore Width (nm)</text>
<text transform="translate(371.8 346.5) rotate(-90)" style="font-family:'Liberation Serif',serif;font-size:10.4px" text-anchor="middle" fill="#222">dV/dlog(w) Pore Volume (cm<tspan font-size="6.7" dy="-3.6">3</tspan><tspan dy="3.6">/g)</tspan></text>
<text x="347.60" y="265.30" style="font-family:'Liberation Serif',serif;font-size:19px;font-weight:bold" text-anchor="start" fill="#111" letter-spacing="0.6">(d)</text>
<path d="M432.19,426.66 L435.31,425.41 L437.98,424.51 L440.43,423.44 L444.22,421.29 L447.78,419.68 L453.12,418.96 L460.25,414.30 L472.05,410.54 L496.77,406.60" fill="none" stroke="#9a9a9a" stroke-width="0.7"/>
<path d="M496.77,406.60 L591.64,414.13" fill="none" stroke="#9a9a9a" stroke-width="0.7" stroke-dasharray="3.2 1.6"/>
<path d="M427.07,422.72 L427.96,362.72 L428.63,371.68 L430.19,373.47 L431.30,360.93" fill="none" stroke="#f27070" stroke-width="0.7"/>
<path d="M431.30,360.93 L432.41,338.90 L434.42,306.84 L436.96,281.77 L441.25,274.25" fill="none" stroke="#f27070" stroke-width="0.7" stroke-dasharray="3 1.4"/>
<path d="M441.25,274.25 L445.48,280.34 L448.78,296.28 L453.79,309.17 L461.36,325.65 L469.16,332.81 L479.18,346.07 L510.80,372.40 L611.24,417.89" fill="none" stroke="#f27070" stroke-width="0.7"/>
<rect x="430.09" y="424.56" width="4.20" height="4.20" fill="#404040"/>
<rect x="433.21" y="423.31" width="4.20" height="4.20" fill="#404040"/>
<rect x="435.88" y="422.41" width="4.20" height="4.20" fill="#404040"/>
<rect x="438.33" y="421.34" width="4.20" height="4.20" fill="#404040"/>
<rect x="442.12" y="419.19" width="4.20" height="4.20" fill="#404040"/>
<rect x="445.68" y="417.58" width="4.20" height="4.20" fill="#404040"/>
<rect x="451.02" y="416.86" width="4.20" height="4.20" fill="#404040"/>
<rect x="458.15" y="412.20" width="4.20" height="4.20" fill="#404040"/>
<rect x="469.95" y="408.44" width="4.20" height="4.20" fill="#404040"/>
<rect x="494.67" y="404.50" width="4.20" height="4.20" fill="#404040"/>
<rect x="589.54" y="412.03" width="4.20" height="4.20" fill="#404040"/>
<circle cx="427.07" cy="422.72" r="2.55" fill="#f0353d"/>
<circle cx="427.96" cy="362.72" r="2.55" fill="#f0353d"/>
<circle cx="428.63" cy="371.68" r="2.55" fill="#f0353d"/>
<circle cx="430.19" cy="373.47" r="2.55" fill="#f0353d"/>
<circle cx="431.30" cy="360.93" r="2.55" fill="#f0353d"/>
<circle cx="432.41" cy="338.90" r="2.55" fill="#f0353d"/>
<circle cx="434.42" cy="306.84" r="2.55" fill="#f0353d"/>
<circle cx="436.96" cy="281.77" r="2.55" fill="#f0353d"/>
<circle cx="441.25" cy="274.25" r="2.55" fill="#f0353d"/>
<circle cx="445.48" cy="280.34" r="2.55" fill="#f0353d"/>
<circle cx="448.78" cy="296.28" r="2.55" fill="#f0353d"/>
<circle cx="453.79" cy="309.17" r="2.55" fill="#f0353d"/>
<circle cx="461.36" cy="325.65" r="2.55" fill="#f0353d"/>
<circle cx="469.16" cy="332.81" r="2.55" fill="#f0353d"/>
<circle cx="479.18" cy="346.07" r="2.55" fill="#f0353d"/>
<circle cx="510.80" cy="372.40" r="2.55" fill="#f0353d"/>
<circle cx="611.24" cy="417.89" r="2.55" fill="#f0353d"/>
<line x1="514.60" y1="280.30" x2="638.70" y2="280.30" stroke="#dedede" stroke-width="0.9"/>
<line x1="514.10" y1="253.75" x2="638.70" y2="253.75" stroke="#a6a6a6" stroke-width="1.0"/>
<line x1="514.60" y1="253.30" x2="514.60" y2="280.60" stroke="#9a9a9a" stroke-width="1.0"/>
<line x1="516.00" y1="260.90" x2="538.20" y2="260.90" stroke="#b4b4b4" stroke-width="1.2"/>
<rect x="524.80" y="258.70" width="4.40" height="4.40" fill="#404040"/>
<text x="541.60" y="264.50" style="font-family:'Liberation Sans',sans-serif;font-size:10.2px;font-weight:normal" text-anchor="start" fill="#222">CS-<tspan font-style="italic">g</tspan>-GEL</text>
<line x1="516.00" y1="273.70" x2="538.20" y2="273.70" stroke="#f8a8a8" stroke-width="0.8"/>
<circle cx="527.00" cy="273.70" r="2.60" fill="#f0353d"/>
<text x="541.60" y="277.30" style="font-family:'Liberation Sans',sans-serif;font-size:10.35px;font-weight:normal" text-anchor="start" fill="#222">CS-<tspan font-style="italic">g</tspan>-GEL/SWCNTs</text>
</svg>
</body></html>
